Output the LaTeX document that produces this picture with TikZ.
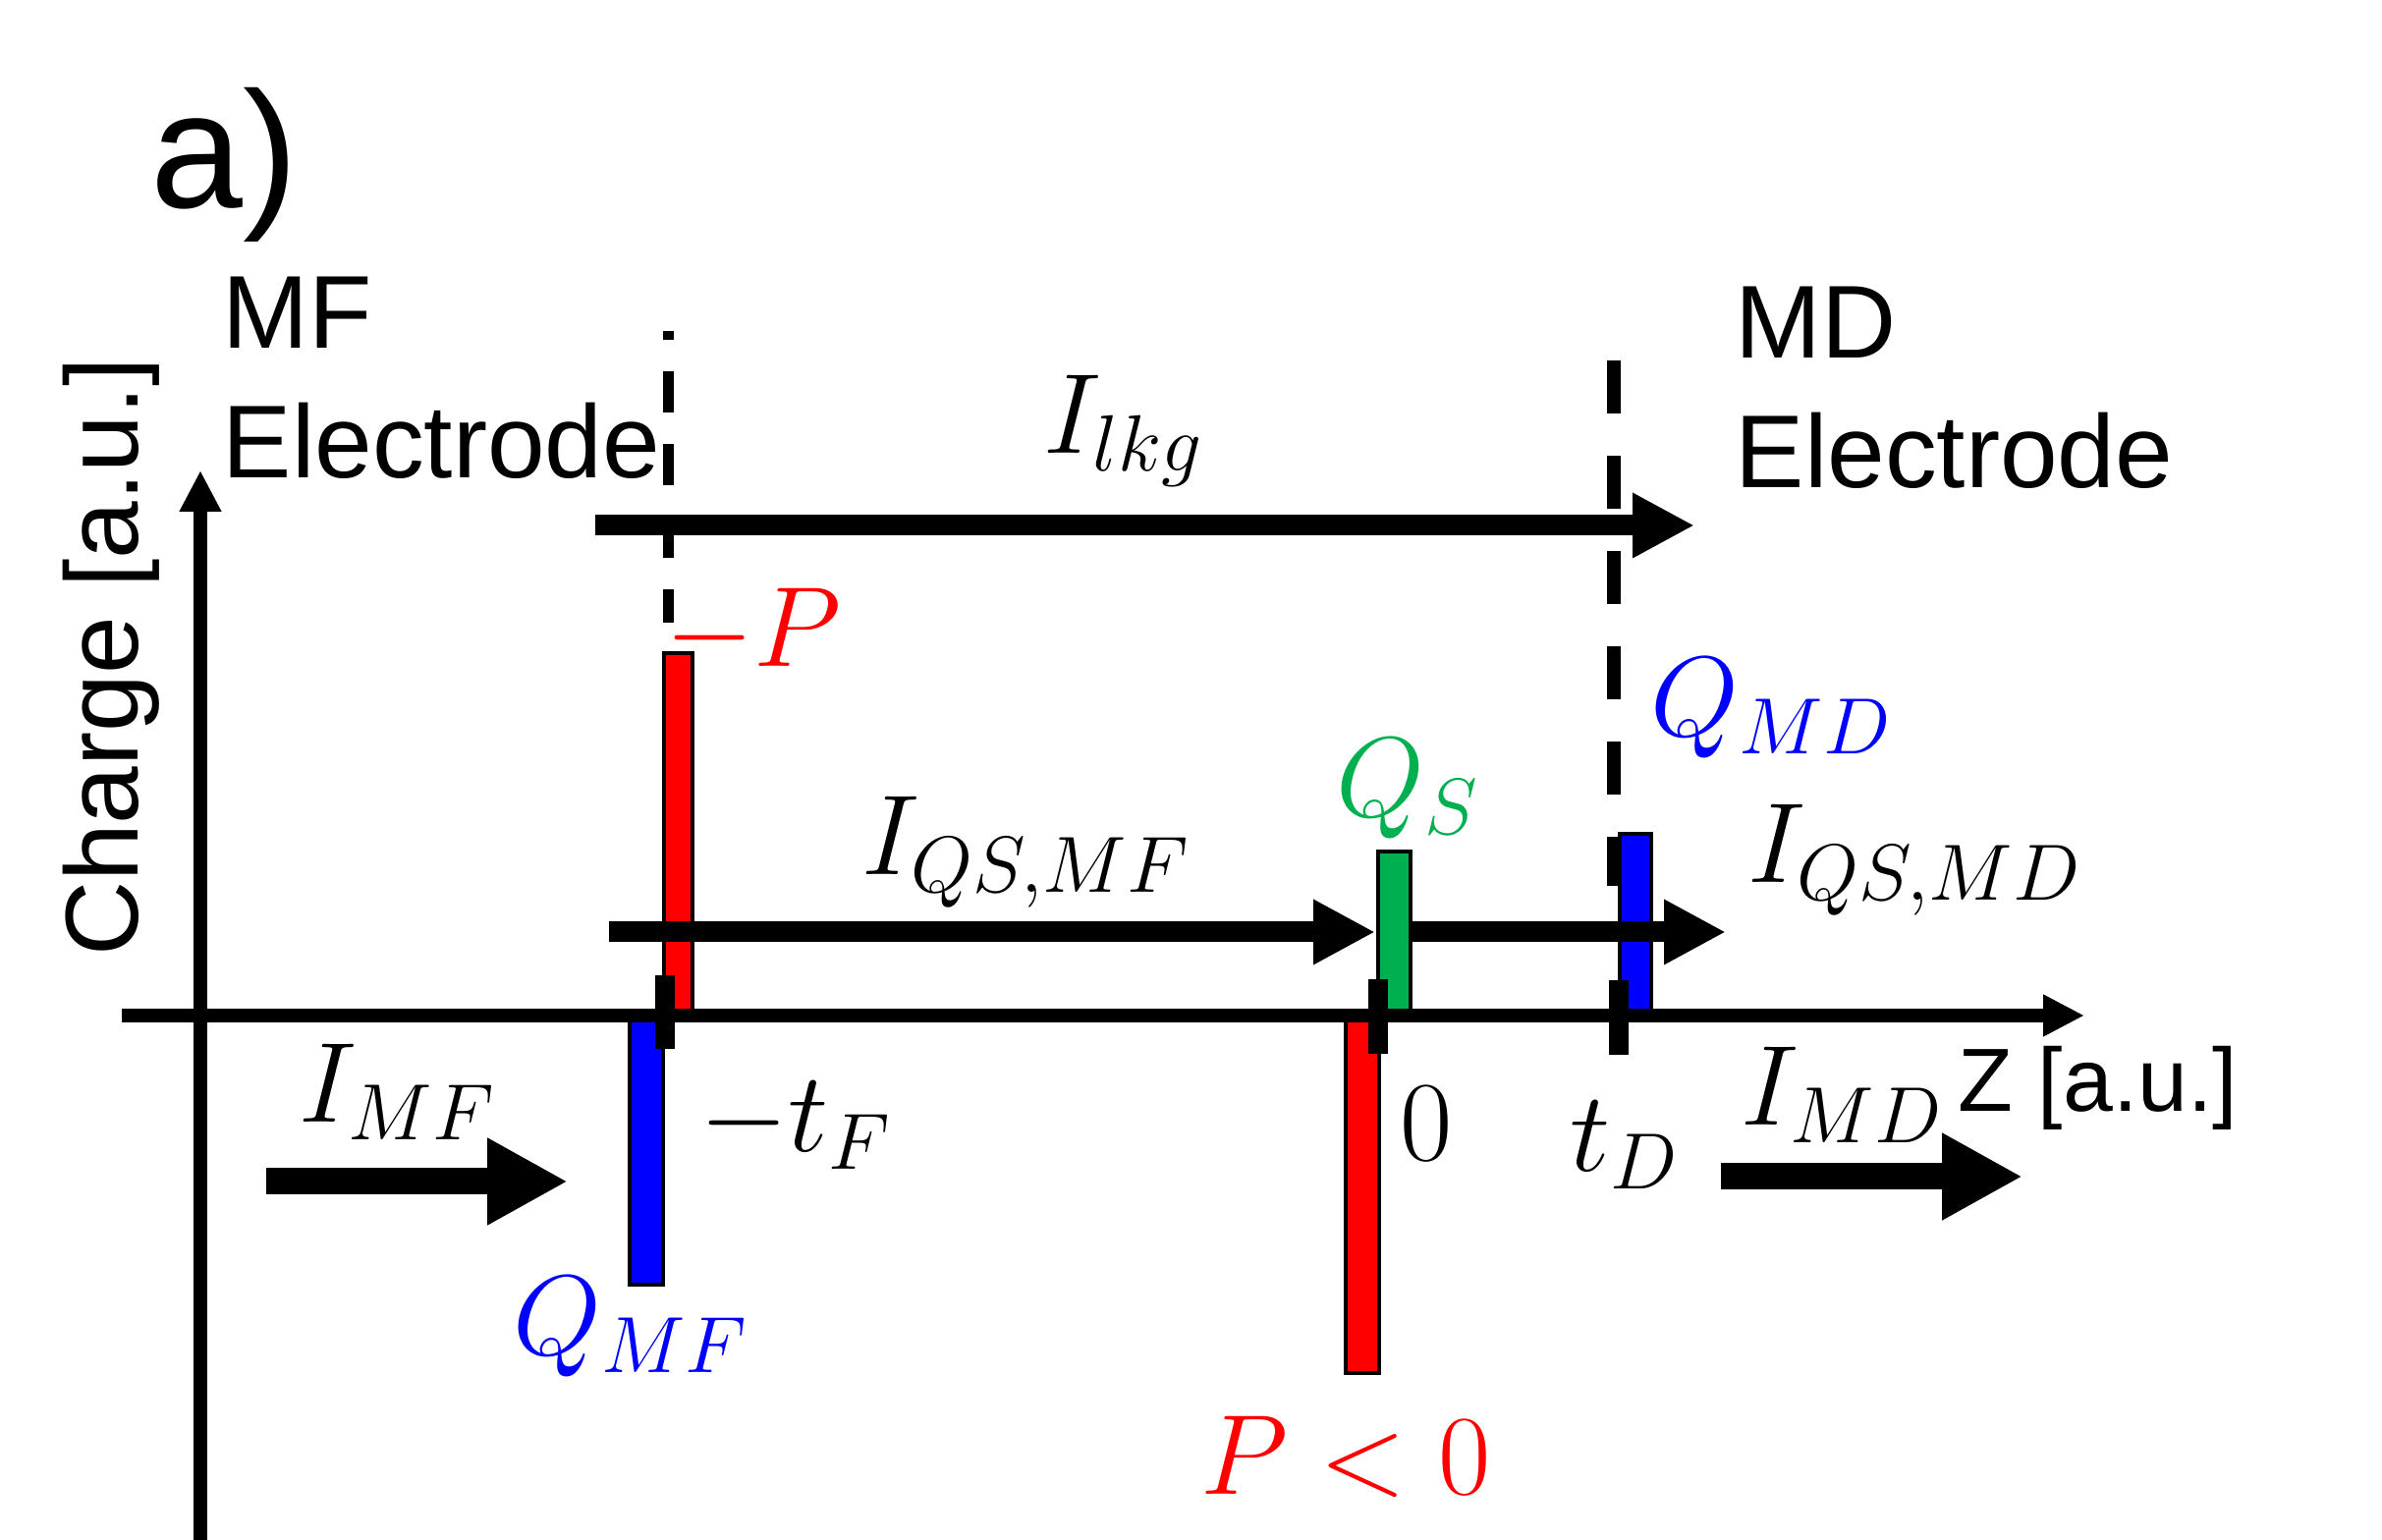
\RequirePackage{fix-cm}
\documentclass[tikz,border=0pt]{standalone}
\usepackage{amsmath}
\usepackage[no-math]{fontspec}
\setmainfont{Liberation Sans}
\usetikzlibrary{arrows.meta}
\definecolor{qsgreen}{RGB}{0,176,80}

\begin{document}
\begin{tikzpicture}[
        txt/.style={font=\fontsize{30}{36}\selectfont, inner sep=0pt},
        lbl/.style={font=\fontsize{33}{40}\selectfont, inner sep=0pt, anchor=base west},
        bar/.style={draw=black, line width=1.4pt},
        tickmark/.style={line width=0.2cm},
        axis/.style={line width=0.135cm, -{Triangle[length=0.42cm,width=0.4cm]}},
        flow/.style={line width=0.21cm, -{Triangle[length=0.63cm,width=0.62cm]}},
        bigflow/.style={line width=0.27cm, -{Triangle[length=0.82cm,width=0.83cm]}},
    ]
        \useasboundingbox (0,0) rectangle (24.25,15.68);

        \node (panel) [font=\fontsize{48}{56}\selectfont, inner sep=0pt, anchor=base west] at (1.53,13.56) {a)};
        \node (mfel) [txt, anchor=base west, align=left] at (2.26,10.81) {MF\\[0.06cm]Electrode};
        \node (mdel) [txt, anchor=base west, align=left] at (17.66,10.71) {MD\\[0.06cm]Electrode};
        \node (ylab) [txt, rotate=90, anchor=base] at (1.40,8.99) {Charge [a.u.]};
        \node (zlab) [font=\fontsize{26}{30}\selectfont, inner sep=0pt, anchor=base west] at (19.93,4.36) {Z [a.u.]};

        \draw [line width=0.11cm, dash pattern=on 0.42cm off 0.32cm, dash phase=0.33cm] (6.80,12.31) -- (6.80,9.34);
        \draw [line width=0.14cm, dash pattern=on 0.54cm off 0.43cm] (16.43,12.01) -- (16.43,6.66);

        \draw [bar, fill=red] (6.76,5.38) rectangle (7.05,9.03);
        \draw [bar, fill=blue] (6.41,5.31) rectangle (6.75,2.60);
        \draw [bar, fill=qsgreen] (14.03,5.38) rectangle (14.36,7.01);
        \draw [bar, fill=red] (13.70,5.31) rectangle (14.04,1.70);
        \draw [bar, fill=blue] (16.49,5.38) rectangle (16.81,7.19);

        \coordinate (yfoot) at (2.04,0);
        \coordinate (ytip) at (2.04,10.89);
        \coordinate (zfoot) at (1.24,5.34);
        \coordinate (ztip) at (21.22,5.34);
        \draw [axis] (yfoot) -- (ytip);
        \draw [axis] (zfoot) -- (ztip);

        \draw [tickmark] (6.765,5.75) -- (6.765,5.00);
        \draw [tickmark] (14.03,5.71) -- (14.03,4.95);
        \draw [tickmark] (16.48,5.70) -- (16.48,4.94);

        \coordinate (lkgA) at (6.06,10.33);
        \coordinate (lkgB) at (17.25,10.33);
        \coordinate (qsmfA) at (6.20,6.19);
        \coordinate (qsmfB) at (14.00,6.19);
        \coordinate (qsmdA) at (14.36,6.19);
        \coordinate (qsmdB) at (17.57,6.19);
        \coordinate (mfA) at (2.71,3.65);
        \coordinate (mfB) at (5.78,3.65);
        \coordinate (mdA) at (17.52,3.70);
        \coordinate (mdB) at (20.59,3.70);
        \draw [flow] (lkgA) -- (lkgB);
        \draw [flow] (qsmfA) -- (qsmfB);
        \draw [flow] (qsmdA) -- (qsmdB);
        \draw [bigflow] (mfA) -- (mfB);
        \draw [bigflow] (mdA) -- (mdB);

        \node (ilkg) [lbl] at (10.62,11.06) {$I_{lkg}$};
        \node (negp) [lbl, text=red] at (6.77,8.89) {$-P$};
        \node (qmd) [lbl, text=blue] at (16.80,8.18) {$Q_{MD}$};
        \node (qs) [lbl, text=qsgreen] at (13.60,7.36) {$Q_S$};
        \node (iqsmf) [lbl] at (8.77,6.77) {$I_{QS,MF}$};
        \node (iqsmd) [lbl] at (17.79,6.69) {$I_{QS,MD}$};
        \node (mtf) [lbl] at (7.12,3.95) {$-t_F$};
        \node (zero) [lbl] at (14.25,3.86) {$0$};
        \node (td) [lbl] at (15.98,3.75) {$t_D$};
        \node (imf) [lbl] at (3.04,4.25) {$I_{MF}$};
        \node (imd) [lbl] at (17.72,4.22) {$I_{MD}$};
        \node (qmf) [lbl, text=blue] at (5.22,1.88) {$Q_{MF}$};
        \node (pneg) [lbl, text=red] at (12.22,0.46) {$P<0$};
    \end{tikzpicture}
\end{document}
